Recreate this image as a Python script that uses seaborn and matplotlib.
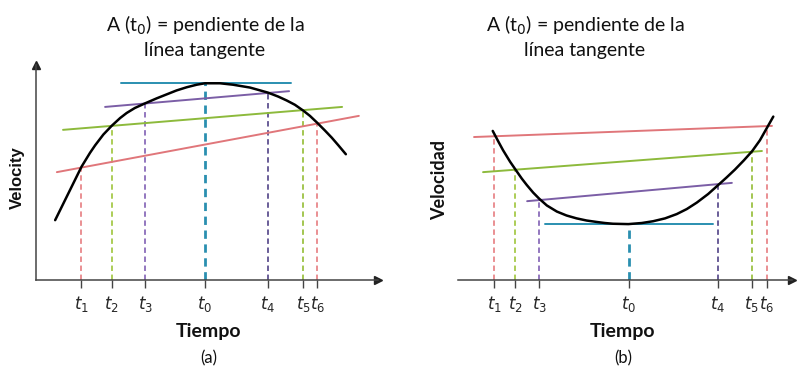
import numpy as np
import pandas as pd
import matplotlib
matplotlib.use("Agg")
import matplotlib.pyplot as plt
import seaborn as sns

sns.set_theme(style="white")
plt.rcParams["font.family"] = ["Lato", "DejaVu Sans"]
plt.rcParams["mathtext.fontset"] = "dejavusans"

# ---- panel (a): velocity curve with a maximum ----
a_t = [0.56, 1.33, 1.58, 1.73, 1.97, 2.21, 2.46, 2.65, 2.89, 3.19, 3.53, 3.82, 4.11, 4.41,
       4.70, 4.94, 5.38, 5.76, 6.26, 6.78, 7.08, 7.33, 7.57, 7.81, 8.01, 8.22, 8.45, 8.65,
       8.84, 9.06]
a_v = [1.67, 3.16, 3.55, 3.76, 4.06, 4.30, 4.52, 4.66, 4.80, 4.93, 5.07, 5.18, 5.29, 5.38,
       5.45, 5.49, 5.49, 5.45, 5.37, 5.23, 5.12, 5.01, 4.89, 4.73, 4.58, 4.39, 4.17, 3.97,
       3.76, 3.51]

a_ticks = [1.33, 2.21, 3.19, 4.94, 6.78, 7.81, 8.22]
a_tick_v = [3.16, 4.30, 4.93, 5.49, 5.23, 4.73, 4.39]

# tangent / secant lines: (t_start, v_start, t_end, v_end)
a_red = [0.61, 3.01, 9.44, 4.58]
a_green = [0.79, 4.19, 8.95, 4.83]
a_purple = [2.02, 4.83, 7.40, 5.27]
a_blue = [2.49, 5.50, 7.46, 5.50]

# ---- panel (b): velocity curve with a minimum ----
b_t = [1.04, 1.21, 1.35, 1.56, 1.73, 1.91, 2.06, 2.25, 2.43, 2.66, 2.96, 3.25, 3.55, 3.85,
       4.15, 4.40, 4.64, 5.10, 5.50, 5.84, 6.20, 6.55, 6.85, 7.15, 7.49, 7.79, 8.04, 8.29,
       8.56, 8.81, 9.04, 9.24, 9.44]
b_v = [4.16, 3.86, 3.62, 3.30, 3.07, 2.83, 2.65, 2.44, 2.27, 2.08, 1.91, 1.80, 1.72, 1.66,
       1.62, 1.59, 1.57, 1.56, 1.59, 1.64, 1.72, 1.84, 1.98, 2.16, 2.40, 2.65, 2.86, 3.08,
       3.34, 3.60, 3.90, 4.23, 4.56]

b_ticks = [1.08, 1.71, 2.43, 5.12, 7.78, 8.80, 9.25]
b_tick_v = [4.05, 3.07, 2.26, 1.56, 2.65, 3.60, 4.28]

b_red = [0.48, 3.99, 9.40, 4.30]
b_green = [0.75, 3.01, 9.10, 3.60]
b_purple = [2.07, 2.20, 8.20, 2.71]
b_blue = [2.60, 1.56, 7.63, 1.56]

tick_labels = [r"$t_1$", r"$t_2$", r"$t_3$", r"$t_0$", r"$t_4$", r"$t_5$", r"$t_6$"]

RED = "#e0767a"
GREEN = "#8dba3c"
PURPLE = "#7b5ea6"
BLUE = "#2a8fb0"
drop_colors = ["#e8878a", "#a6c94a", "#8a6cba", "#2a8fb0", "#5e5090", "#9cc243", "#e8878a"]

W, H = 798, 373
fig = plt.figure(figsize=(W / 100, H / 100), dpi=100)


def px_axes(x0, x1, y_top, y_bot):
    return fig.add_axes([x0 / W, 1 - y_bot / H, (x1 - x0) / W, (y_bot - y_top) / H])


def draw_panel(ax, t, v, ticks, tick_v, lines, left_axis):
    ax.set_xlim(0, 10)
    ax.set_ylim(0, 6)
    ax.set_facecolor("none")
    df = pd.DataFrame({"t": t, "v": v})
    sns.lineplot(data=df, x="t", y="v", ax=ax, color="black", lw=1.8,
                 sort=False, estimator=None, zorder=4)
    for (x0, y0, x1, y1), c in zip(lines, [RED, GREEN, PURPLE, BLUE]):
        ax.plot([x0, x1], [y0, y1], color=c, lw=1.4, zorder=3)
    for i, (tt, vv) in enumerate(zip(ticks, tick_v)):
        lw = 2.0 if i == 3 else 1.3
        ax.plot([tt, tt], [0, vv], color=drop_colors[i], lw=lw,
                ls=(0, (3, 2)), zorder=2)
    ax.set_xticks(ticks, labels=tick_labels)
    ax.set_yticks([])
    ax.tick_params(axis="x", direction="out", length=6, width=1, color="#444444",
                   labelsize=12, pad=4, bottom=True)
    for s in ["top", "right"]:
        ax.spines[s].set_visible(False)
    ax.spines["bottom"].set_color("#444444")
    ax.spines["bottom"].set_linewidth(1.1)
    ax.plot(1, 0, ">", color="#222222", ms=6, transform=ax.transAxes, clip_on=False)
    if left_axis:
        ax.spines["left"].set_color("#444444")
        ax.spines["left"].set_linewidth(1.1)
        ax.plot(0, 1, "^", color="#222222", ms=6, transform=ax.transAxes, clip_on=False)
    else:
        ax.spines["left"].set_visible(False)
    ax.set_xlabel("")
    ax.set_ylabel("")


ax1 = px_axes(36, 378, 65, 280)
draw_panel(ax1, a_t, a_v, a_ticks, a_tick_v, [a_red, a_green, a_purple, a_blue], True)

ax2 = px_axes(458, 792, 65, 280)
draw_panel(ax2, b_t, b_v, b_ticks, b_tick_v, [b_red, b_green, b_purple, b_blue], False)

title = "A (t$_0$) = pendiente de la\nlínea tangente"
fig.text(205 / W, 1 - 36 / H, title, ha="center", va="center", fontsize=14,
         linespacing=1.35, color="#111111")
fig.text(585 / W, 1 - 36 / H, title, ha="center", va="center", fontsize=14,
         linespacing=1.35, color="#111111")

fig.text(17 / W, 1 - 178 / H, "Velocity", rotation=90, ha="center", va="center",
         fontsize=12, fontweight="bold", family=["Liberation Sans", "DejaVu Sans"],
         color="#111111")
fig.text(440 / W, 1 - 180 / H, "Velocidad", rotation=90, ha="center", va="center",
         fontsize=13, fontweight="bold", color="#111111")

for xc, lab in [(209, "(a)"), (623, "(b)")]:
    fig.text(xc / W, 1 - 332 / H, "Tiempo", ha="center", va="center",
             fontsize=14, fontweight="bold", color="#111111")
    fig.text(xc / W, 1 - 358 / H, lab, ha="center", va="center",
             fontsize=12, color="#111111")

fig.savefig("out.png", dpi=100)
